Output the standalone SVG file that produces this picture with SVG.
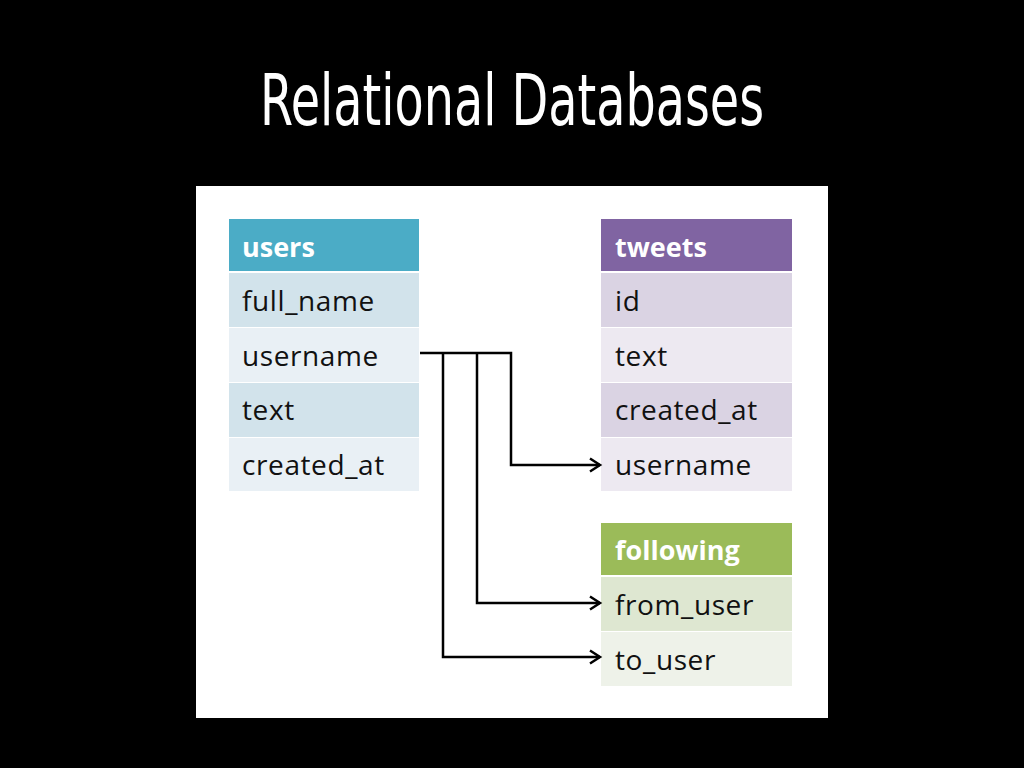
<svg xmlns="http://www.w3.org/2000/svg" width="1024" height="768" viewBox="0 0 1024 768">
<defs>
<style>
.t{font-family:"Open Sans","Liberation Sans",sans-serif;font-size:28px;letter-spacing:0.6px;fill:#111}
.h{font-family:"Open Sans","Liberation Sans",sans-serif;font-size:27px;font-weight:bold;fill:#fff}
.c{fill:none;stroke:#000;stroke-width:2.5}
</style>
<marker id="arr" markerWidth="16" markerHeight="16" refX="13" refY="8" orient="auto" markerUnits="userSpaceOnUse">
<path d="M3,1.5 L13,8 L3,14.5" fill="none" stroke="#000" stroke-width="2.5"/>
</marker>
</defs>
<rect width="1024" height="768" fill="#000"/>
<text x="512" y="125" text-anchor="middle" font-family="'DejaVu Sans Condensed','DejaVu Sans',sans-serif" font-size="72" fill="#fff" textLength="504" lengthAdjust="spacingAndGlyphs">Relational Databases</text>
<rect x="196" y="186" width="632" height="532" fill="#fff"/>
<g id="users">
<rect x="229" y="219" width="190" height="52" fill="#4BACC6"/>
<rect x="229" y="273" width="190" height="54" fill="#D2E3EB"/>
<rect x="229" y="328" width="190" height="54" fill="#E9F0F5"/>
<rect x="229" y="383" width="190" height="54" fill="#D2E3EB"/>
<rect x="229" y="438" width="190" height="53" fill="#E9F0F5"/>
<text class="h" x="242" y="257">users</text>
<text class="t" x="242" y="311">full_name</text>
<text class="t" x="242" y="366">username</text>
<text class="t" x="242" y="420">text</text>
<text class="t" x="242" y="475">created_at</text>
</g>
<g id="tweets">
<rect x="601" y="219" width="191" height="52" fill="#8064A2"/>
<rect x="601" y="273" width="191" height="54" fill="#DAD3E3"/>
<rect x="601" y="328" width="191" height="54" fill="#EDE9F1"/>
<rect x="601" y="383" width="191" height="54" fill="#DAD3E3"/>
<rect x="601" y="438" width="191" height="53" fill="#EDE9F1"/>
<text class="h" x="615" y="257">tweets</text>
<text class="t" x="615" y="311">id</text>
<text class="t" x="615" y="366">text</text>
<text class="t" x="615" y="420">created_at</text>
<text class="t" x="615" y="475">username</text>
</g>
<g id="following">
<rect x="601" y="523" width="191" height="52" fill="#9BBB59"/>
<rect x="601" y="577" width="191" height="54" fill="#DEE7D1"/>
<rect x="601" y="632" width="191" height="54" fill="#EEF2E9"/>
<text class="h" x="615" y="560">following</text>
<text class="t" x="615" y="615">from_user</text>
<text class="t" x="615" y="670">to_user</text>
</g>
<g id="connectors">
<polyline class="c" points="420,353 511,353 511,465 600,465" marker-end="url(#arr)"/>
<polyline class="c" points="477,353 477,603 600,603" marker-end="url(#arr)"/>
<polyline class="c" points="443,353 443,657 600,657" marker-end="url(#arr)"/>
</g>
</svg>
